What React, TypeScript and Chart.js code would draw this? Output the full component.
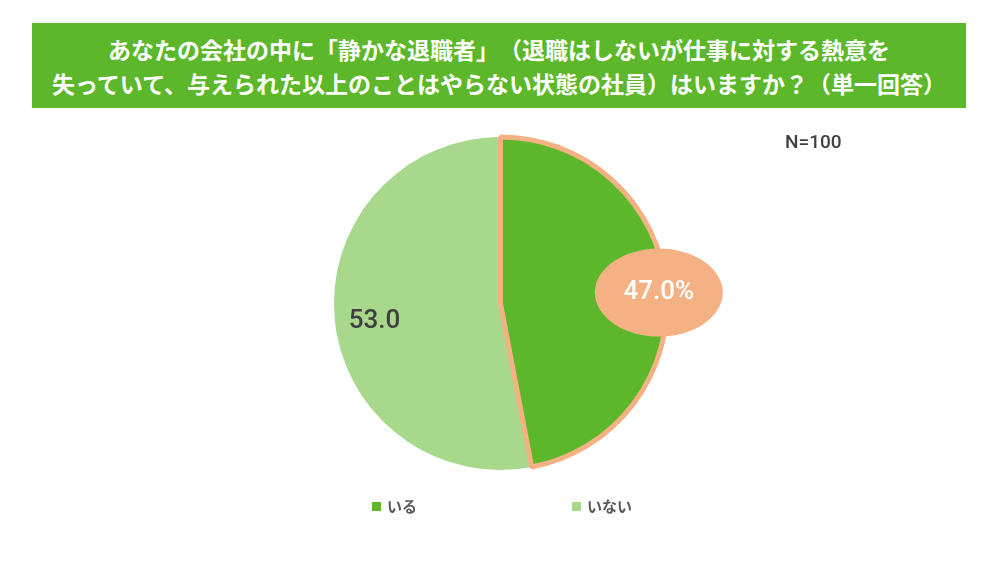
import { useEffect, useRef } from "react";
import { Chart, registerables } from "chart.js";

Chart.register(...registerables);

const titleLines = [
  "あなたの会社の中に「静かな退職者」（退職はしないが仕事に対する熱意を",
  "失っていて、与えられた以上のことはやらない状態の社員）はいますか？（単一回答）",
];
const labels = ["いる", "いない"];
const values = [47.0, 53.0];
const sliceColors = ["#5CB82A", "#A8D88B"];
const sampleNote = "N=100";

const orange = "#F4B183";
const darkText = "#404040";

// labels drawn on the slices, positioned from the arc geometry
const sliceLabels = {
  id: "sliceLabels",
  afterDatasetsDraw(chart: Chart) {
    const ctx = chart.ctx;
    const meta = chart.getDatasetMeta(0);
    meta.data.forEach((el: any) => {
      const { x, y, startAngle, endAngle, outerRadius } = el.getProps(
        ["x", "y", "startAngle", "endAngle", "outerRadius"],
        true
      );
      const mid = (startAngle + endAngle) / 2;
      const idx = el.$context.dataIndex;
      const name = chart.data.labels![idx];
      const v = chart.data.datasets[0].data[idx] as number;
      ctx.save();
      ctx.textAlign = "center";
      ctx.textBaseline = "middle";
      ctx.font = "500 26px Roboto, 'Noto Sans CJK JP', sans-serif";
      if (name === "いる") {
        const lx = x + Math.cos(mid) * outerRadius * 0.955;
        const ly = y + Math.sin(mid) * outerRadius * 0.955 + 4;
        ctx.fillStyle = orange;
        ctx.beginPath();
        ctx.ellipse(lx, ly, 64, 44, 0, 0, Math.PI * 2);
        ctx.fill();
        ctx.fillStyle = "#FFFFFF";
        ctx.fillText(v.toFixed(1) + "%", lx, ly);
      } else {
        const lx = x + Math.cos(mid) * outerRadius * 0.76;
        const ly = y + Math.sin(mid) * outerRadius * 0.76 + 6;
        ctx.fillStyle = darkText;
        ctx.fillText(v.toFixed(1), lx, ly);
      }
      ctx.restore();
    });
  },
};

// bottom legend with wide gaps between the items, plus the sample size note
const wideLegend = {
  id: "wideLegend",
  afterDraw(chart: Chart) {
    const ctx = chart.ctx;
    ctx.save();
    ctx.font = "bold 15px 'Noto Sans CJK JP', sans-serif";
    ctx.textBaseline = "middle";
    labels.forEach((lab, i) => {
      const x0 = 372 + i * 200;
      ctx.fillStyle = sliceColors[i];
      ctx.fillRect(x0, 502, 9, 9);
      ctx.fillStyle = "#595959";
      ctx.fillText(lab, x0 + 15, 506);
    });
    ctx.font = "500 19px Roboto, sans-serif";
    ctx.fillStyle = darkText;
    ctx.fillText(sampleNote, 785, 143);
    ctx.restore();
  },
};

export default function App() {
  const ref = useRef<HTMLCanvasElement>(null);

  useEffect(() => {
    if (!ref.current) return;
    const total = values.reduce((a, b) => a + b, 0);
    // draw いない first so the orange border of いる stays on top
    const order = [1, 0];
    const chart = new Chart(ref.current, {
      type: "pie",
      data: {
        labels: order.map((i) => labels[i]),
        datasets: [
          {
            data: order.map((i) => values[i]),
            backgroundColor: order.map((i) => sliceColors[i]),
            borderColor: order.map((i) => (i === 0 ? orange : sliceColors[i])),
            borderWidth: order.map((i) => (i === 0 ? 5 : 0)),
          },
        ],
      },
      options: {
        responsive: false,
        animation: false,
        rotation: (values[0] / total) * 360,
        layout: { padding: { top: 134.5, bottom: 90.5, left: 331.5, right: 330.5 } },
        plugins: {
          legend: { display: false },
          tooltip: { enabled: false },
          title: { display: false },
        },
      },
      plugins: [sliceLabels, wideLegend],
    });
    return () => {
      chart.destroy();
    };
  }, []);

  return (
    <div
      style={{
        position: "absolute",
        left: 0,
        top: 0,
        width: 1000,
        height: 563,
        background: "#FFFFFF",
        overflow: "hidden",
      }}
    >
      <div
        style={{
          position: "absolute",
          left: 32,
          top: 23,
          width: 934,
          height: 85,
          background: "#5CB82A",
          color: "#FFFFFF",
          fontFamily: "'Noto Sans CJK JP', sans-serif",
          fontWeight: 700,
          fontSize: 23,
          lineHeight: "34px",
          textAlign: "center",
          display: "flex",
          flexDirection: "column",
          justifyContent: "center",
          ...({ textSpacingTrim: "space-all" } as any),
        }}
      >
        {titleLines.map((t) => (
          <div key={t}>{t}</div>
        ))}
      </div>
      <canvas
        ref={ref}
        width={1000}
        height={563}
        style={{ position: "absolute", left: 0, top: 0 }}
      />
    </div>
  );
}
